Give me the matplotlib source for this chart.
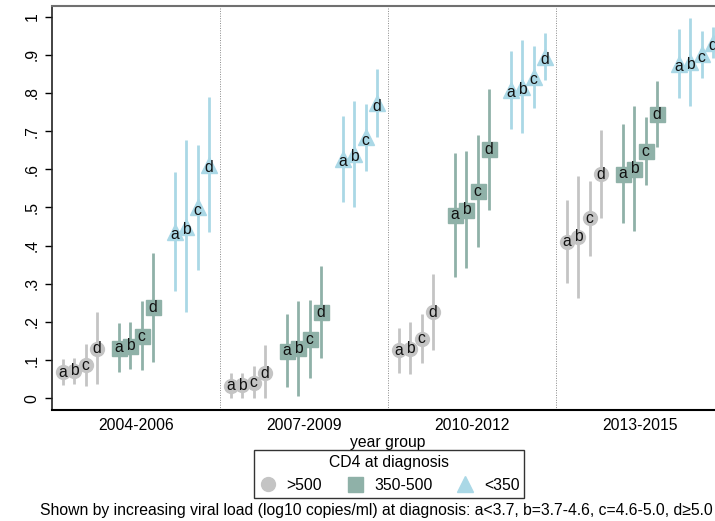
import numpy as np
import matplotlib
matplotlib.use('Agg')
import matplotlib.pyplot as plt
from matplotlib.lines import Line2D

plt.rcParams['font.family'] = ['Liberation Sans', 'DejaVu Sans']
FS = 11.3

year_groups = ['2004-2006', '2007-2009', '2010-2012', '2013-2015']
vl_labels = ['a', 'b', 'c', 'd']
cd4_labels = ['>500', '350-500', '<350']

# proportion (rows: year group, cols: viral load a-d)
est_gt500 = [[0.068, 0.072, 0.087, 0.130],
             [0.033, 0.034, 0.041, 0.066],
             [0.126, 0.130, 0.156, 0.226],
             [0.410, 0.423, 0.472, 0.587]]
lo_gt500 = [[0.035, 0.037, 0.032, 0.037],
            [0.002, 0.002, 0.000, 0.000],
            [0.067, 0.064, 0.092, 0.127],
            [0.301, 0.264, 0.373, 0.472]]
hi_gt500 = [[0.102, 0.105, 0.141, 0.225],
            [0.065, 0.066, 0.085, 0.140],
            [0.183, 0.199, 0.220, 0.326],
            [0.520, 0.583, 0.570, 0.703]]

est_350_500 = [[0.132, 0.138, 0.162, 0.238],
               [0.125, 0.131, 0.155, 0.226],
               [0.481, 0.494, 0.543, 0.652],
               [0.588, 0.602, 0.647, 0.744]]
lo_350_500 = [[0.068, 0.077, 0.074, 0.096],
              [0.030, 0.007, 0.052, 0.105],
              [0.319, 0.342, 0.396, 0.493],
              [0.460, 0.439, 0.559, 0.659]]
hi_350_500 = [[0.198, 0.200, 0.255, 0.380],
              [0.220, 0.255, 0.258, 0.347],
              [0.644, 0.648, 0.690, 0.811],
              [0.719, 0.766, 0.736, 0.832]]

est_lt350 = [[0.437, 0.450, 0.500, 0.612],
             [0.627, 0.640, 0.684, 0.773],
             [0.808, 0.816, 0.842, 0.895],
             [0.877, 0.881, 0.901, 0.932]]
lo_lt350 = [[0.281, 0.225, 0.336, 0.437],
            [0.515, 0.502, 0.596, 0.686],
            [0.706, 0.694, 0.761, 0.834],
            [0.788, 0.766, 0.840, 0.893]]
hi_lt350 = [[0.594, 0.677, 0.663, 0.789],
            [0.741, 0.779, 0.770, 0.863],
            [0.910, 0.939, 0.924, 0.956],
            [0.967, 0.996, 0.963, 0.972]]

series = [
    (est_gt500, lo_gt500, hi_gt500, 'o', '#c4c4c4', 10.0, 0),
    (est_350_500, lo_350_500, hi_350_500, 's', '#8fb1a8', 10.8, 0),
    (est_lt350, lo_lt350, hi_lt350, '^', '#aad8e6', 11.0, -2),
]

fig = plt.figure(figsize=(7.15, 5.21), dpi=100)
ax = fig.add_axes([52/715, 111/521, 672/715, 404.3/521])

for k, (est, lo, hi, mk, col, ms, dy) in enumerate(series):
    est, lo, hi = np.array(est), np.array(lo), np.array(hi)
    for g in range(len(year_groups)):
        for j in range(len(vl_labels)):
            x = g - 0.5 + (5 * k + j + 1) / 15
            ax.vlines(x, lo[g, j], hi[g, j], color=col, lw=2.0, zorder=1)
    for g in range(len(year_groups)):
        for j in range(len(vl_labels)):
            x = g - 0.5 + (5 * k + j + 1) / 15
            ax.plot(x, est[g, j], marker=mk, ms=ms, color=col, mec=col, ls='none', zorder=2)
            ax.annotate(vl_labels[j], (x, est[g, j]), xytext=(0, dy), textcoords='offset points',
                        ha='center', va='center', fontsize=FS, color='#111111', zorder=3)

for b in [0.5, 1.5, 2.5]:
    ax.axvline(b, color='#888888', lw=0.7, ls=(0, (1, 1.5)), zorder=0)

ax.set_xlim(-0.5, 3.5)
ax.set_ylim(-0.0307, 1.0288)
ax.set_xticks(range(len(year_groups)))
ax.set_xticklabels(year_groups, fontsize=FS)
ax.tick_params(axis='x', length=0, pad=6)
ax.set_yticks(np.arange(0, 1.01, 0.1))
ax.set_yticklabels(['0'] + ['.%d' % i for i in range(1, 10)] + ['1'], rotation=90, va='center', fontsize=FS)
ax.tick_params(axis='y', length=5, width=1.0, pad=4)
ax.set_xlabel('year group', fontsize=FS, labelpad=1)

ax.spines['right'].set_visible(False)
ax.spines['top'].set_color('#707070')
ax.spines['top'].set_linewidth(1.5)
ax.spines['left'].set_color('#222222')
ax.spines['left'].set_linewidth(1.2)
ax.spines['bottom'].set_color('black')
ax.spines['bottom'].set_linewidth(1.5)

handles = [Line2D([], [], marker=mk, ms=ms, color=col, ls='none') for _, _, _, mk, col, ms, _ in series]
leg = fig.legend(handles, cd4_labels, ncol=3, title='CD4 at diagnosis', loc='center',
                 bbox_to_anchor=(389/715, 1 - 474/521), fontsize=FS, title_fontsize=FS,
                 frameon=True, fancybox=False, edgecolor='#333333', framealpha=1,
                 borderpad=0.3, handletextpad=0.6, columnspacing=1.5, handlelength=1.2)
leg.get_frame().set_linewidth(1.0)

fig.text(40/715, 1 - 510/521, 'Shown by increasing viral load (log10 copies/ml) at diagnosis: '
         'a<3.7, b=3.7-4.6, c=4.6-5.0, d≥5.0', ha='left', va='center', fontsize=FS)

fig.savefig('out.png', dpi=100)
